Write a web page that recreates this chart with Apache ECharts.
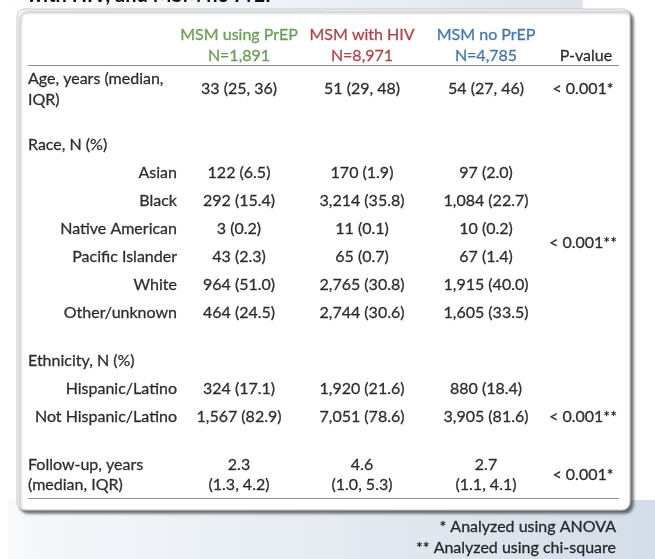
<!DOCTYPE html>
<html>
<head>
<meta charset="utf-8">
<script src="https://cdn.jsdelivr.net/npm/echarts@6/dist/echarts.min.js"></script>
<style>
html,body{margin:0;padding:0;background:#ffffff;}
#chart{width:655px;height:559px;}
</style>
</head>
<body>
<div id="chart"></div>
<script>
// ---------- data ----------
const groups = ['MSM using PrEP', 'MSM with HIV', 'MSM no PrEP'];
const groupN = [1891, 8971, 4785];
const groupColors = ['#4f8a37', '#9e1a1f', '#1c5d99'];
const pHeader = 'P-value';

const ageLabel = 'Age, years (median,\nIQR)';
const ageMedian = [33, 51, 54];
const ageQ1 = [25, 29, 27];
const ageQ3 = [36, 48, 46];

const raceLabel = 'Race, N (%)';
const raceCats = ['Asian', 'Black', 'Native American', 'Pacific Islander', 'White', 'Other/unknown'];
const racePrEP_n = [122, 292, 3, 43, 964, 464];
const racePrEP_pct = [6.5, 15.4, 0.2, 2.3, 51.0, 24.5];
const raceHIV_n = [170, 3214, 11, 65, 2765, 2744];
const raceHIV_pct = [1.9, 35.8, 0.1, 0.7, 30.8, 30.6];
const raceNo_n = [97, 1084, 10, 67, 1915, 1605];
const raceNo_pct = [2.0, 22.7, 0.2, 1.4, 40.0, 33.5];

const ethLabel = 'Ethnicity, N (%)';
const ethCats = ['Hispanic/Latino', 'Not Hispanic/Latino'];
const ethPrEP_n = [324, 1567];
const ethPrEP_pct = [17.1, 82.9];
const ethHIV_n = [1920, 7051];
const ethHIV_pct = [21.6, 78.6];
const ethNo_n = [880, 3905];
const ethNo_pct = [18.4, 81.6];

const followLabel = 'Follow-up, years\n(median, IQR)';
const followMedian = [2.3, 4.6, 2.7];
const followQ1 = [1.3, 1.0, 1.1];
const followQ3 = [4.2, 5.3, 4.1];

const pValues = ['< 0.001*', '< 0.001**', '< 0.001**', '< 0.001*']; // age, race, ethnicity, follow-up
const footnotes = ['* Analyzed using ANOVA', '** Analyzed using chi-square'];
const clippedTitle = 'with HIV, and MSM no PrEP';

// ---------- layout (pixel space of hidden axes) ----------
const W = 655, H = 559;
const L = {
  labelLeft: 28, subRight: 177, colX: [239, 362, 486], pX: 583,
  head1: 35, head2: 56, ruleTop: 65, ruleBottom: 498, ruleL: 28, ruleR: 619,
  age: 89, race: 145, race0: 173, step: 28, eth: 361, eth0: 389, follow: 475,
  footRight: 616, foot: [527, 548],
  panel: {x: 17, y: 9, w: 613, h: 501, r: 8}
};

const FONT = 'Lato';
const FS = 16;
const fmtN = v => v.toLocaleString('en-US');
const fmtP = v => v.toFixed(1);
const cell = (n, p) => fmtN(n) + ' (' + fmtP(p) + ')';

const items = [];
function add(x, y, text, opt) {
  opt = opt || {};
  const col = opt.color || '#000000';
  items.push({
    value: [x, y],
    label: {
      show: true, position: 'inside', formatter: text,
      align: opt.align || 'center', verticalAlign: 'middle',
      color: col, fontSize: opt.size || FS,
      fontFamily: FONT, lineHeight: opt.lh || 21,
      textBorderColor: col, textBorderWidth: 0.3
    }
  });
}

// header
groups.forEach((g, i) => {
  add(L.colX[i], L.head1, g, {color: groupColors[i]});
  add(L.colX[i], L.head2, 'N=' + fmtN(groupN[i]), {color: groupColors[i]});
});
add(L.pX + 3, L.head2, pHeader);

// age
add(L.labelLeft, L.age, ageLabel, {align: 'left'});
[0, 1, 2].forEach(i => add(L.colX[i], L.age, ageMedian[i] + ' (' + ageQ1[i] + ', ' + ageQ3[i] + ')'));
add(L.pX, L.age, pValues[0]);

// race
add(L.labelLeft, L.race, raceLabel, {align: 'left'});
raceCats.forEach((c, j) => {
  const y = L.race0 + j * L.step;
  add(L.subRight, y, c, {align: 'right'});
  add(L.colX[0], y, cell(racePrEP_n[j], racePrEP_pct[j]));
  add(L.colX[1], y, cell(raceHIV_n[j], raceHIV_pct[j]));
  add(L.colX[2], y, cell(raceNo_n[j], raceNo_pct[j]));
});
add(L.pX, L.race0 + (raceCats.length - 1) * L.step / 2, pValues[1]);

// ethnicity
add(L.labelLeft, L.eth, ethLabel, {align: 'left'});
ethCats.forEach((c, j) => {
  const y = L.eth0 + j * L.step;
  add(L.subRight, y, c, {align: 'right'});
  add(L.colX[0], y, cell(ethPrEP_n[j], ethPrEP_pct[j]));
  add(L.colX[1], y, cell(ethHIV_n[j], ethHIV_pct[j]));
  add(L.colX[2], y, cell(ethNo_n[j], ethNo_pct[j]));
});
add(L.pX, L.eth0 + L.step, pValues[2]);

// follow-up
add(L.labelLeft, L.follow, followLabel, {align: 'left', lh: 20});
[0, 1, 2].forEach(i => add(L.colX[i], L.follow,
  fmtP(followMedian[i]) + '\n(' + fmtP(followQ1[i]) + ', ' + fmtP(followQ3[i]) + ')', {lh: 20}));
add(L.pX, L.follow, pValues[3]);

// footnotes
footnotes.forEach((f, i) => add(L.footRight, L.foot[i], f, {align: 'right'}));

const P = L.panel;
const option = {
  animation: false,
  backgroundColor: '#ffffff',
  grid: {left: 0, top: 0, width: W, height: H},
  xAxis: {type: 'value', min: 0, max: W, show: false},
  yAxis: {type: 'value', min: 0, max: H, inverse: true, show: false},
  graphic: [
    {type: 'rect', shape: {x: 0, y: 0, width: 583, height: 12}, z: -10,
     style: {fill: {type: 'linear', x: 0, y: 0, x2: 1, y2: 0, colorStops: [{offset: 0, color: '#ffffff'}, {offset: 1, color: '#dde4ec'}]}}},
    {type: 'rect', shape: {x: 8, y: 500, width: W - 8, height: H - 500}, z: -10,
     style: {fill: {type: 'linear', x: 0, y: 0, x2: 1, y2: 0, colorStops: [{offset: 0, color: '#f7f9fb'}, {offset: 1, color: '#d3dde8'}]}}},
    {type: 'text', x: 27, y: 6, z: -5,
     style: {text: clippedTitle, fontSize: 20, fontFamily: FONT, fontWeight: 'bold', fill: '#111', verticalAlign: 'bottom'}},
    {type: 'rect', shape: {x: P.x, y: P.y, width: P.w, height: P.h, r: P.r}, z: -1,
     style: {fill: '#ffffff', stroke: '#c8c8c8', lineWidth: 1,
             shadowBlur: 3, shadowOffsetX: 3, shadowOffsetY: 3, shadowColor: 'rgba(60,60,60,0.75)'}},
    {type: 'line', shape: {x1: L.ruleL, y1: L.ruleTop + 0.5, x2: L.ruleR, y2: L.ruleTop + 0.5}, z: 0,
     style: {stroke: '#8c8c8c', lineWidth: 1}},
    {type: 'line', shape: {x1: L.ruleL, y1: L.ruleBottom + 0.5, x2: L.ruleR, y2: L.ruleBottom + 0.5}, z: 0,
     style: {stroke: '#8c8c8c', lineWidth: 1}}
  ],
  series: [{
    type: 'scatter', symbolSize: 0, silent: true, z: 5,
    data: items
  }]
};

const chart = echarts.init(document.getElementById('chart'), null, {renderer: 'canvas'});
chart.setOption(option);
</script>
</body>
</html>
